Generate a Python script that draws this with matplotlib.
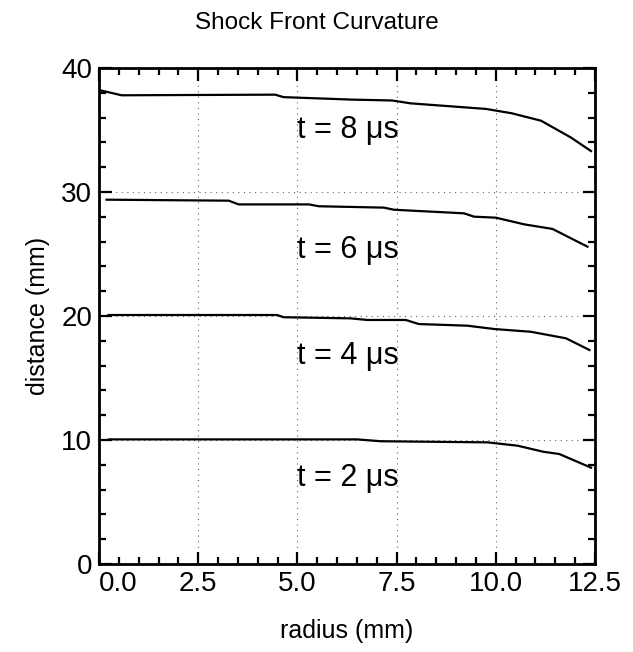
import matplotlib
matplotlib.use("Agg")
import matplotlib.pyplot as plt
from matplotlib.ticker import MultipleLocator

plt.rcParams['font.family'] = ['Liberation Sans', 'DejaVu Sans']

# ---------------- DATA ----------------
r_8us = [0.03, 0.57, 4.44, 4.65, 6.38, 7.39, 7.85, 9.75, 10.4, 11.14, 11.89, 12.4]
d_8us = [38.2, 37.8, 37.85, 37.65, 37.45, 37.38, 37.15, 36.7, 36.35, 35.75, 34.4, 33.3]

r_6us = [0.19, 3.27, 3.52, 5.29, 5.54, 7.18, 7.43, 9.2, 9.45, 10.0, 10.72, 11.43, 12.31]
d_6us = [29.38, 29.3, 29.0, 29.0, 28.85, 28.74, 28.57, 28.28, 28.01, 27.93, 27.39, 27.02, 25.59]

r_4us = [0.24, 4.49, 4.65, 6.34, 6.76, 7.73, 8.06, 9.28, 9.96, 10.88, 11.77, 12.36]
d_4us = [20.08, 20.08, 19.9, 19.81, 19.68, 19.68, 19.35, 19.22, 18.95, 18.73, 18.2, 17.26]

r_2us = [0.25, 6.5, 7.1, 9.79, 10.55, 11.2, 11.6, 12.4]
d_2us = [10.05, 10.05, 9.9, 9.81, 9.54, 9.05, 8.87, 7.77]

curves = [(r_8us, d_8us), (r_6us, d_6us), (r_4us, d_4us), (r_2us, d_2us)]
labels = ["t = 8 \u03bcs", "t = 6 \u03bcs", "t = 4 \u03bcs", "t = 2 \u03bcs"]
label_y = [35.0, 25.3, 16.8, 6.9]
label_x = 5.0

# ---------------- PLOT ----------------
fig = plt.figure(figsize=(6.33, 6.52), dpi=100)
ax = fig.add_axes([99 / 633, 1 - 564 / 652, 496 / 633, 496 / 652])

for r, d in curves:
    ax.plot(r, d, color="black", linewidth=1.6)

for txt, y in zip(labels, label_y):
    ax.text(label_x, y, txt, fontsize=22, ha="left", va="center")

ax.set_xlim(0, 12.5)
ax.set_ylim(0, 40)
ax.xaxis.set_major_locator(MultipleLocator(2.5))
ax.xaxis.set_minor_locator(MultipleLocator(0.5))
ax.yaxis.set_major_locator(MultipleLocator(10))
ax.yaxis.set_minor_locator(MultipleLocator(2))
ax.set_xticks([0, 2.5, 5, 7.5, 10, 12.5])
ax.set_xticklabels(["0.0", "2.5", "5.0", "7.5", "10.0", "12.5"])

ax.tick_params(which="both", direction="in", top=True, right=True, width=1.6)
ax.tick_params(which="major", length=9, labelsize=20, pad=5)
ax.tick_params(which="minor", length=5)
ax.get_xticklabels()[0].set_horizontalalignment("left")

for s in ax.spines.values():
    s.set_linewidth(2)

ax.grid(True, which="major", linestyle=(0, (1, 4)), color="#666666", linewidth=0.8)

ax.set_xlabel("radius (mm)", fontsize=18, labelpad=16)
ax.set_ylabel("distance (mm)", fontsize=18, labelpad=8)
fig.text(0.5, 1 - 23 / 652, "Shock Front Curvature", fontsize=17.5, ha="center", va="center")

fig.savefig("out.png", dpi=100)
